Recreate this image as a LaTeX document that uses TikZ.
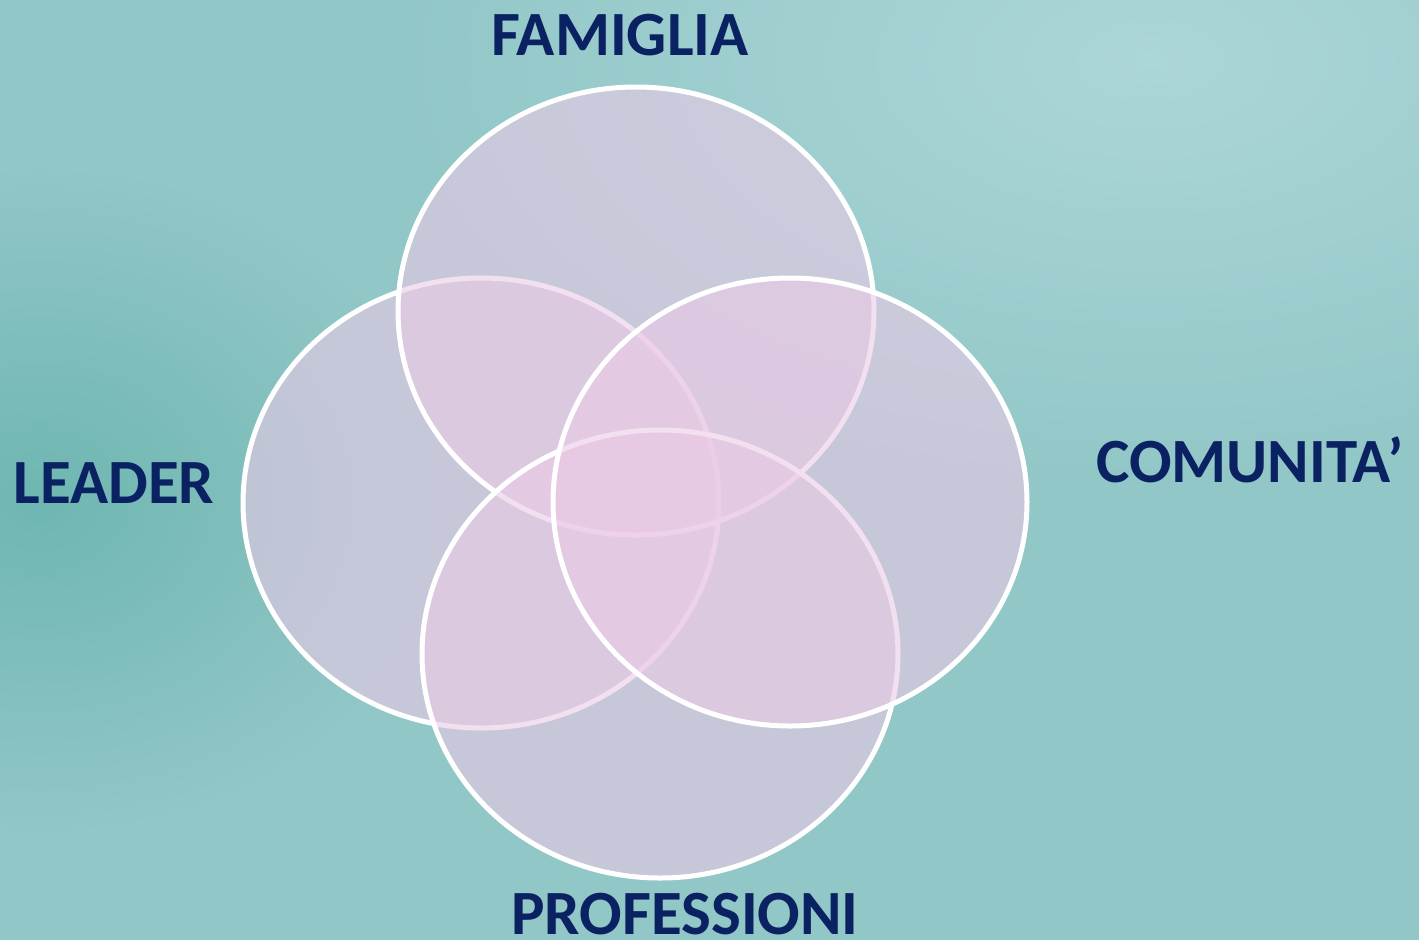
\documentclass[tikz,border=0pt]{standalone}
\usepackage{fontspec}
\newfontfamily\labelfont{Carlito}
\definecolor{tealbase}{RGB}{146,199,199}
\definecolor{tealdark}{RGB}{110,182,177}
\definecolor{teallight}{RGB}{172,214,216}
\definecolor{navytext}{RGB}{11,34,98}
\definecolor{pinkfill}{RGB}{234,202,230}
\tikzset{
    venn/.style={line width=5pt, draw=white, fill=pinkfill, fill opacity=0.6},
    biglabel/.style={anchor=base, inner sep=0pt, text=navytext, font=\labelfont\bfseries\fontsize{63}{70}\selectfont}
}
\begin{document}
\begin{tikzpicture}[x=1pt, y=-1pt]
        \useasboundingbox (0, 0) rectangle (1419, 940);

        % background
        \begin{scope}
            \clip (0, 0) rectangle (1419, 940);
            \fill[tealbase] (0, 0) rectangle (1419, 940);
            \shade[inner color=tealdark, outer color=tealbase] (40, 500) ellipse (420 and 340);
            \shade[inner color=teallight, outer color=tealbase] (1150, 60) ellipse (750 and 420);
        \end{scope}

        % the four circles, left first and right last
        \filldraw[venn] (481, 503) ellipse (238 and 225);
        \filldraw[venn] (636, 311) ellipse (238 and 224);
        \filldraw[venn] (660, 654) ellipse (238 and 224);
        \filldraw[venn] (790, 502) ellipse (237 and 224);

        % labels
        \node[biglabel] (famiglia) at (620, 55) {FAMIGLIA};
        \node[biglabel] (leader) at (114, 503) {LEADER};
        \node[biglabel] (comunita) at (1250, 482) {COMUNITA’};
        \node[biglabel] (professioni) at (685, 934) {PROFESSIONI};
    \end{tikzpicture}
\end{document}
